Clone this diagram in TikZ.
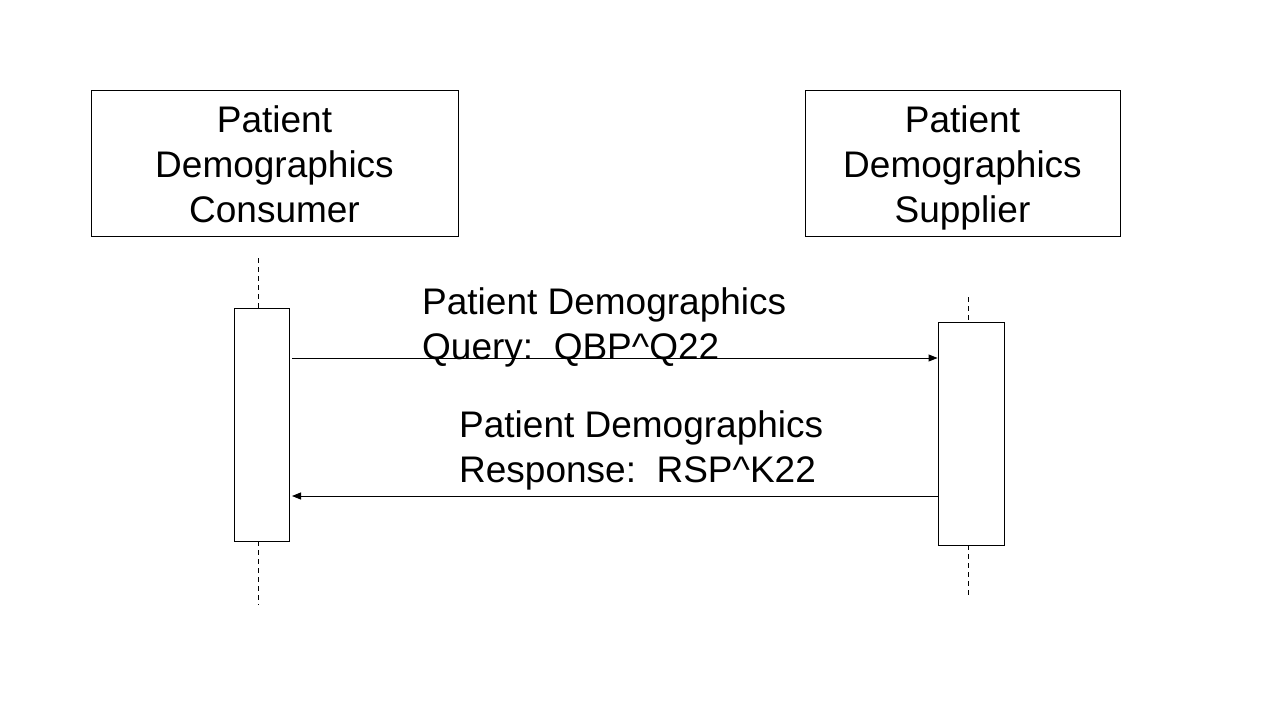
\documentclass[tikz,border=0pt]{standalone}
\usepackage{fontspec}
\setmainfont{Liberation Sans}
\usetikzlibrary{arrows.meta}
\begin{document}
\begin{tikzpicture}[x=1pt,y=-1pt,
  bigtext/.style={font=\fontsize{37}{45}\selectfont, inner sep=0pt},
  act/.style={draw, line width=0.9pt, inner sep=0pt},
  life/.style={line width=0.9pt, dash pattern=on 5pt off 4pt},
  msg/.style={line width=0.9pt, -{Triangle[length=9pt,width=7pt]}}]
\useasboundingbox (0,0) rectangle (1280,720);
% actor boxes
\node[act, minimum width=367pt, minimum height=146pt] (b1) at (274.5,163) {};
\node[act, minimum width=315pt, minimum height=146pt] (b2) at (962.5,163) {};
\node[bigtext, align=center, anchor=north] (t1) at (274.5,105) {Patient\\Demographics\\Consumer};
\node[bigtext, align=center, anchor=north] (t2) at (962.5,105) {Patient\\Demographics\\Supplier};
% activation boxes
\node[act, minimum width=55pt, minimum height=233pt] (a1) at (261.5,424.5) {};
\node[act, minimum width=66pt, minimum height=223pt] (a2) at (971,433.5) {};
% lifelines
\coordinate (l1t) at (258,258);
\coordinate (l1b) at (258,605);
\coordinate (l2t) at (968,297);
\coordinate (l2b) at (968,595);
\draw[life] (l1t) -- (l1t |- a1.north);
\draw[life] (l1b |- a1.south) -- (l1b);
\draw[life] (l2t) -- (l2t |- a2.north);
\draw[life] (l2b |- a2.south) -- (l2b);
% messages
\coordinate (m1s) at (292,358);
\coordinate (m2e) at (292,496);
\draw[msg] (m1s) -- (m1s -| a2.west);
\draw[msg] (m2e -| a2.west) -- (m2e);
% labels
\node[bigtext, align=left, anchor=north west] (q) at (422,287) {Patient Demographics\\Query:\ \ QBP\^{}Q22};
\node[bigtext, align=left, anchor=north west] (r) at (459,410) {Patient Demographics\\Response:\ \ RSP\^{}K22};
\end{tikzpicture}
\end{document}
